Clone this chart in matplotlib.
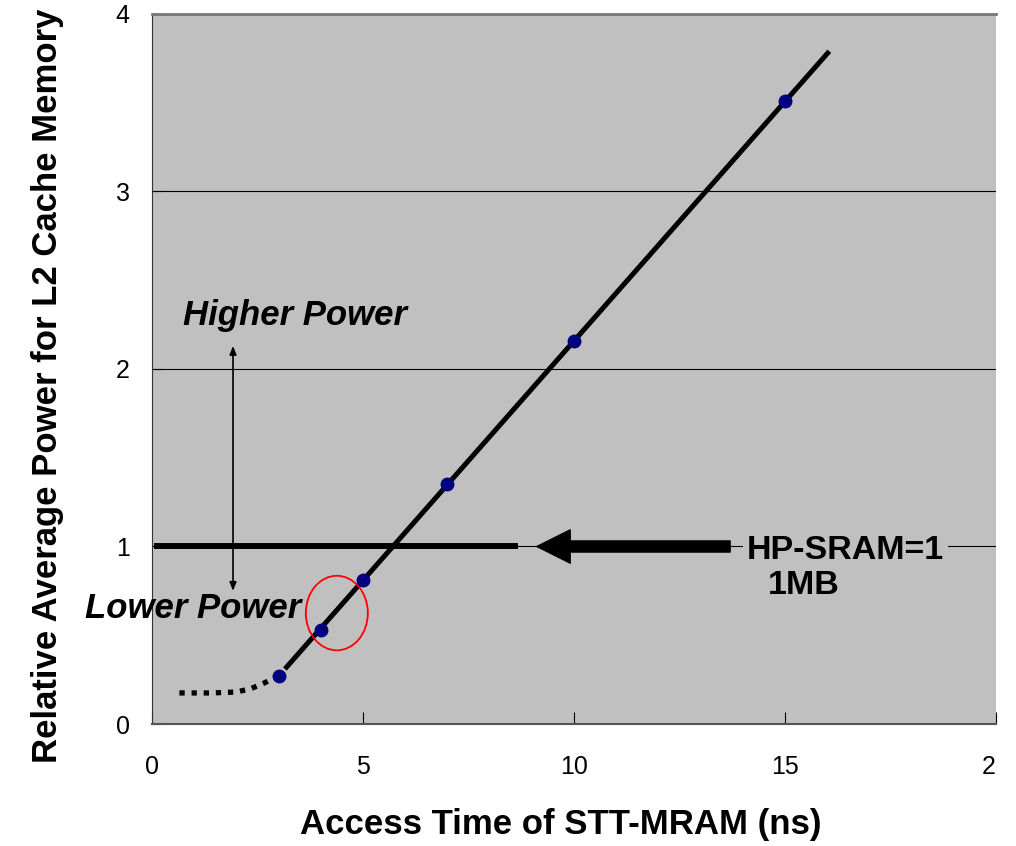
import matplotlib.pyplot as plt
from matplotlib.patches import Ellipse

plt.rcParams['font.family'] = ['Liberation Sans', 'DejaVu Sans']

# measured points (access time ns, relative power)
access_time = [3, 4, 5, 7, 10, 15]
rel_power = [0.27, 0.53, 0.81, 1.35, 2.16, 3.51]

# fitted trend line ends
fit_x = [3.15, 16.05]
fit_y = [0.31, 3.79]

# dotted extrapolation below 3 ns
dot_x = [0.65, 1.4, 2.0, 2.35, 2.65, 2.9, 3.1]
dot_y = [0.175, 0.175, 0.18, 0.20, 0.23, 0.26, 0.29]

sram_level = 1.0
xticks = [0, 5, 10, 15, 20]
xtick_labels = ["0", "5", "10", "15", "2"]
yticks = [0, 1, 2, 3, 4]

fig = plt.figure(figsize=(10.16, 8.46), dpi=100)
ax = fig.add_axes([0.1496, 0.1442, 0.8307, 0.8393])
ax.set_facecolor('#c0c0c0')
ax.set_xlim(0, 20)
ax.set_ylim(0, 4)

for y in yticks[1:]:
    ax.axhline(y, color='black', lw=0.8, zorder=1)

ax.plot(dot_x, dot_y, color='black', lw=3.8, ls=(0, (1, 1.3)), dash_capstyle='butt', zorder=3)
ax.plot(fit_x, fit_y, color='black', lw=3.6, solid_capstyle='butt', zorder=3)
ax.plot(access_time, rel_power, 'o', color='#000080', ms=9, zorder=4)

# HP-SRAM reference line and arrow
ax.plot([0.12, 8.6], [sram_level, sram_level], color='black', lw=4.3, zorder=3)
ax.annotate('', xy=(9.12, sram_level), xytext=(13.7, sram_level),
            arrowprops=dict(arrowstyle='simple,head_width=1.2,head_length=1.2,tail_width=0.4',
                            color='black', shrinkA=0, shrinkB=0, mutation_scale=20), zorder=3)
ax.text(14.1, sram_level - 0.02, 'HP-SRAM=1', fontsize=24.5, fontweight='bold',
        va='center', ha='left', zorder=5,
        bbox=dict(facecolor='#c0c0c0', edgecolor='none', pad=3))
ax.text(14.6, 0.78, '1MB', fontsize=24.5, fontweight='bold',
        va='center', ha='left', zorder=5)

# higher / lower power indicator
ax.annotate('', xy=(1.92, 2.13), xytext=(1.92, 0.75),
            arrowprops=dict(arrowstyle='<|-|>,head_width=0.2,head_length=0.5',
                            color='black', lw=1.2, shrinkA=0, shrinkB=0))
ax.text(0.73, 2.30, 'Higher Power', fontsize=25, fontweight='bold', style='italic',
        va='center', ha='left')
ax.text(-1.59, 0.65, 'Lower Power', fontsize=25, fontweight='bold', style='italic',
        va='center', ha='left', clip_on=False, zorder=6)

ax.add_patch(Ellipse((4.38, 0.625), 1.47, 0.42, fill=False, edgecolor='red', lw=1.3, zorder=5))

ax.set_xticks(xticks)
ax.set_xticklabels(xtick_labels)
ax.set_yticks(yticks)
ax.tick_params(axis='x', direction='in', length=9, pad=22, labelsize=18)
ax.tick_params(axis='y', direction='in', length=7, pad=16, labelsize=18)
xl = ax.get_xticklabels()
xl[-1].set_horizontalalignment('right')

ax.spines['right'].set_visible(False)
ax.spines['top'].set_color('#777777')
ax.spines['top'].set_linewidth(2)
ax.spines['left'].set_color('#333333')
ax.spines['bottom'].set_color('#555555')
ax.spines['bottom'].set_linewidth(1.5)

fig.text(0.552, 0.026, 'Access Time of STT-MRAM (ns)', fontsize=25, fontweight='bold',
         ha='center', va='center')
fig.text(0.047, 0.544, 'Relative Average Power for L2 Cache Memory', fontsize=25,
         fontweight='bold', rotation=90, ha='center', va='center')

fig.savefig('out.png', dpi=100)
